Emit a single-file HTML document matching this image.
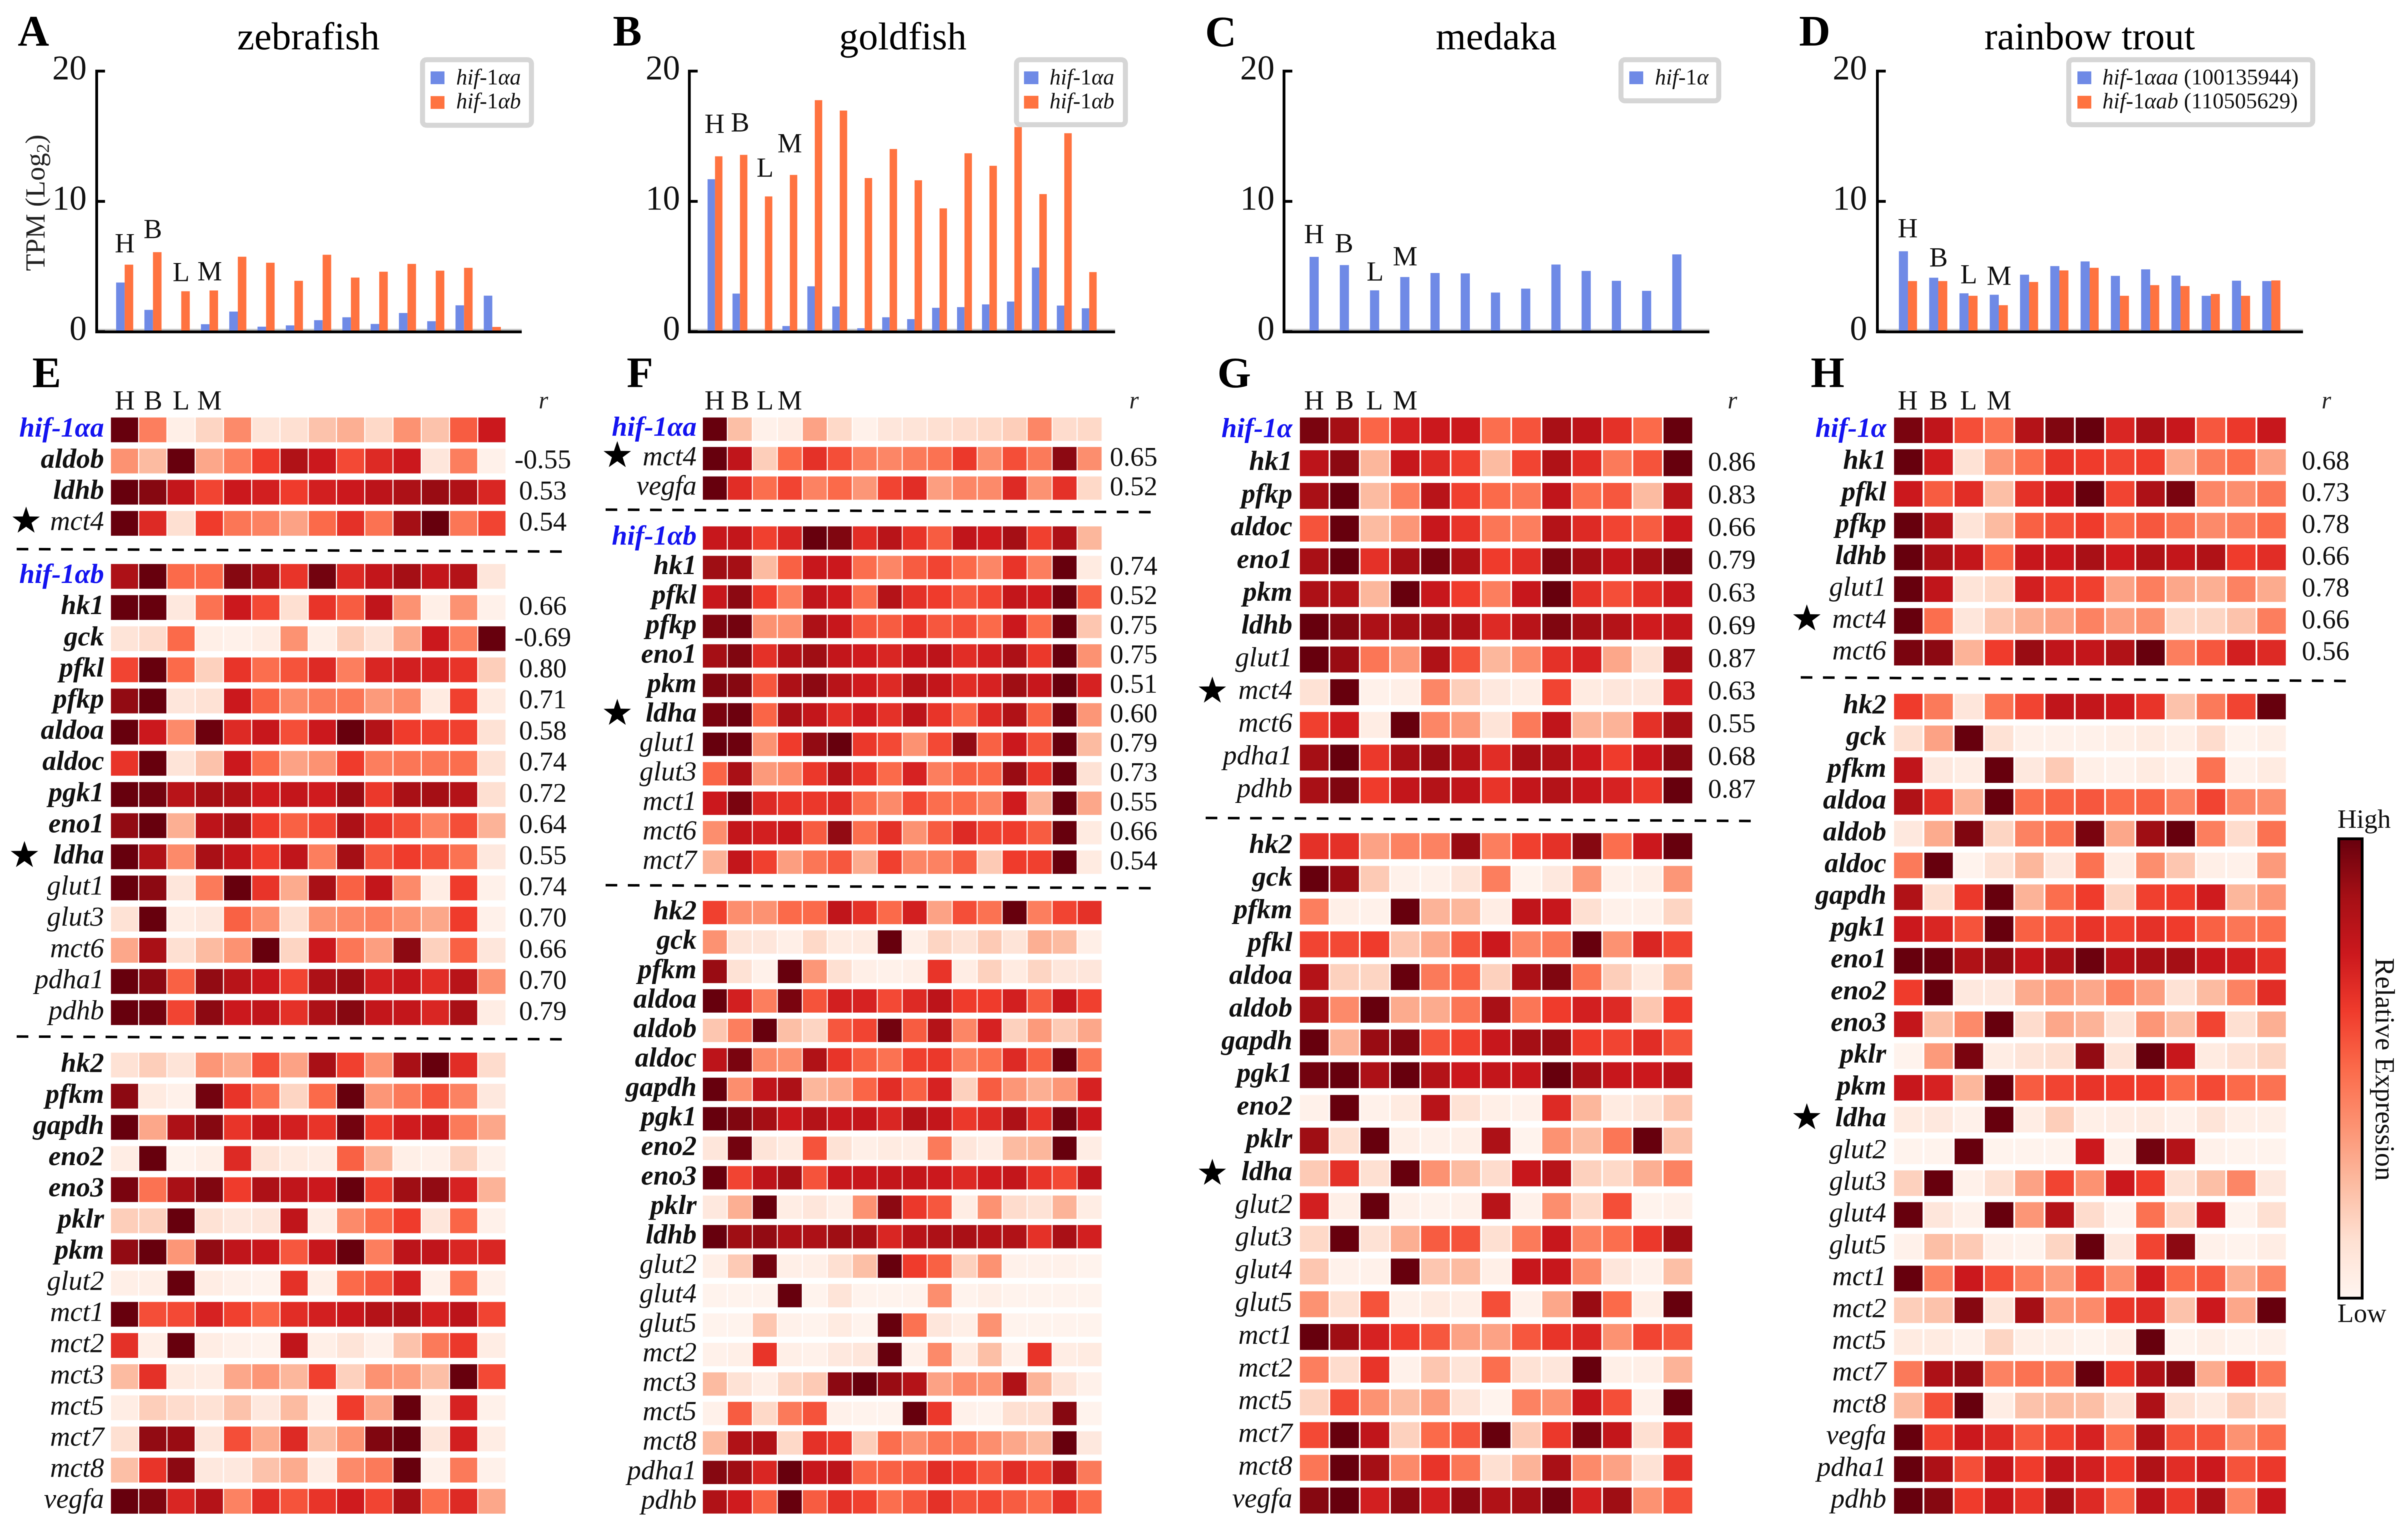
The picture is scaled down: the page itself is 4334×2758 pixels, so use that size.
<!DOCTYPE html>
<html lang="en">
<head>
<meta charset="utf-8">
<title>hif-1 alpha expression across fish tissues</title>
<style>
html,body{margin:0;padding:0;background:#fff;width:4334px;height:2758px;overflow:hidden}
svg{display:block;font-family:"Liberation Serif",serif;filter:blur(0.8px)}
</style>
</head>
<body>
<svg id="fig" xmlns="http://www.w3.org/2000/svg" width="4334" height="2758" viewBox="0 0 4334 2758">
<defs>
<linearGradient id="redsGrad" x1="0" y1="1" x2="0" y2="0">
<stop offset="0" stop-color="#fff5f0"/><stop offset="0.125" stop-color="#fee0d2"/><stop offset="0.25" stop-color="#fcbba1"/><stop offset="0.375" stop-color="#fc9272"/><stop offset="0.5" stop-color="#fb6a4a"/><stop offset="0.625" stop-color="#ef3b2c"/><stop offset="0.75" stop-color="#cb181d"/><stop offset="0.875" stop-color="#a50f15"/><stop offset="1" stop-color="#67000d"/>
</linearGradient>
</defs>
<g font-weight="bold" font-size="78" fill="#000">
<text x="32" y="82">A</text>
<text x="1103" y="82">B</text>
<text x="2169" y="83">C</text>
<text x="3238" y="82">D</text>
<text x="58" y="697">E</text>
<text x="1128" y="697">F</text>
<text x="2191" y="697">G</text>
<text x="3259" y="697">H</text>
</g>
<g font-size="70" fill="#000" text-anchor="middle">
<text x="555" y="89">zebrafish</text>
<text x="1625" y="89">goldfish</text>
<text x="2693" y="89">medaka</text>
<text x="3761" y="89">rainbow trout</text>
</g>
<text transform="translate(80,365) rotate(-90)" text-anchor="middle" font-size="50" fill="#222">TPM (Log<tspan font-size="33" dy="8">2</tspan><tspan dy="-8">)</tspan></text>
<g id="bars"></g>
<g font-size="50" fill="#111" text-anchor="middle">
<text x="224.6" y="454">H</text>
<text x="275" y="428.6">B</text>
<text x="326" y="506">L</text>
<text x="377.5" y="504.5">M</text>
<text x="1286" y="238.8">H</text>
<text x="1332" y="236.7">B</text>
<text x="1377" y="318">L</text>
<text x="1421.5" y="274">M</text>
<text x="2365" y="437.5">H</text>
<text x="2419" y="454">B</text>
<text x="2475" y="505">L</text>
<text x="2529" y="477.5">M</text>
<text x="3433.6" y="427">H</text>
<text x="3489" y="479.6">B</text>
<text x="3543.5" y="510">L</text>
<text x="3598" y="512.6">M</text>
</g>
<g font-size="40" fill="#111">
<g>
<rect x="760.5" y="107.5" width="196" height="118" rx="7" fill="#fff" stroke="#d6d6d6" stroke-width="9"/>
<rect x="775" y="128.5" width="25" height="23" fill="#6f8ae6"/><rect x="775" y="173" width="25" height="23" fill="#ff7340"/>
<text x="821" y="152"><tspan font-style="italic">hif</tspan>-1<tspan font-style="italic">αa</tspan></text>
<text x="821" y="195"><tspan font-style="italic">hif</tspan>-1<tspan font-style="italic">αb</tspan></text>
</g>
<g>
<rect x="1829.5" y="107.5" width="196" height="117" rx="7" fill="#fff" stroke="#d6d6d6" stroke-width="9"/>
<rect x="1843" y="128.5" width="26" height="23" fill="#6f8ae6"/><rect x="1843" y="172.5" width="26" height="23" fill="#ff7340"/>
<text x="1889" y="152"><tspan font-style="italic">hif</tspan>-1<tspan font-style="italic">αa</tspan></text>
<text x="1889" y="195"><tspan font-style="italic">hif</tspan>-1<tspan font-style="italic">αb</tspan></text>
</g>
<g>
<rect x="2917.5" y="107.5" width="176" height="74" rx="7" fill="#fff" stroke="#d6d6d6" stroke-width="9"/>
<rect x="2932.5" y="128.5" width="25" height="23" fill="#6f8ae6"/>
<text x="2978.5" y="152"><tspan font-style="italic">hif</tspan>-1<tspan font-style="italic">α</tspan></text>
</g>
<g>
<rect x="3723.5" y="107.5" width="439" height="117" rx="7" fill="#fff" stroke="#d6d6d6" stroke-width="9"/>
<rect x="3739" y="128.5" width="25" height="23" fill="#6f8ae6"/><rect x="3739" y="172.5" width="25" height="23" fill="#ff7340"/>
<text x="3784" y="152"><tspan font-style="italic">hif</tspan>-1<tspan font-style="italic">αaa</tspan> (100135944)</text>
<text x="3784" y="195"><tspan font-style="italic">hif</tspan>-1<tspan font-style="italic">αab</tspan> (110505629)</text>
</g>
</g>
<g font-size="50" fill="#111" text-anchor="middle">
<text x="224.5" y="737">H</text><text x="275.5" y="737">B</text><text x="326" y="737">L</text><text x="377" y="737">M</text>
<text x="1286" y="737">H</text><text x="1332" y="737">B</text><text x="1377" y="737">L</text><text x="1421.5" y="737">M</text>
<text x="2365" y="737">H</text><text x="2420" y="737">B</text><text x="2474" y="737">L</text><text x="2529" y="737">M</text>
<text x="3433.5" y="737">H</text><text x="3489" y="737">B</text><text x="3543" y="737">L</text><text x="3598" y="737">M</text>
</g>
<g font-size="44" font-style="italic" fill="#222" text-anchor="middle">
<text x="978" y="735">r</text>
<text x="2041" y="735">r</text>
<text x="3118" y="735">r</text>
<text x="4187" y="735">r</text>
</g>
<g id="heat"></g>
<g stroke="#000" stroke-width="4.5" stroke-dasharray="21 19" fill="none">
<line x1="30" y1="988.5" x2="1019" y2="993"/>
<line x1="30" y1="1866" x2="1019" y2="1871"/>
<line x1="1090" y1="917.5" x2="2080" y2="922"/>
<line x1="1090" y1="1593.5" x2="2080" y2="1599"/>
<line x1="2170" y1="1472.5" x2="3161" y2="1478"/>
<line x1="3241" y1="1219.5" x2="4230" y2="1226"/>
</g>
<g id="stars" fill="#000"></g>
<g>
<rect x="4209.5" y="1510" width="42" height="827" fill="url(#redsGrad)" stroke="#000" stroke-width="5"/>
<text x="4207" y="1490.5" font-size="48" fill="#111">High</text>
<text x="4207" y="2380" font-size="48" fill="#111">Low</text>
<text transform="translate(4276,1925) rotate(90)" text-anchor="middle" font-size="50" fill="#111">Relative Expression</text>
</g>
</svg>
<script>
// ---- bar chart values (TPM, Log2) ----
const yTicks = [0, 10, 20];
const zebrafishHif1aa = [3.77,1.67,0,0.57,1.54,0.38,0.48,0.88,1.1,0.59,1.43,0.8,2.02,2.76];
const zebrafishHif1ab = [5.14,6.1,3.1,3.16,5.75,5.29,3.9,5.9,4.15,4.6,5.2,4.68,4.9,0.36];
const goldfishHif1aa = [11.7,2.92,0,0.43,3.48,1.93,0.26,1.1,0.96,1.83,1.88,2.09,2.31,4.92,2.0,1.79];
const goldfishHif1ab = [13.46,13.57,10.38,12.03,17.77,16.97,11.79,14.02,11.62,9.46,13.69,12.73,15.7,10.56,15.23,4.57];
const medakaHif1a = [5.74,5.11,3.17,4.19,4.5,4.47,3.0,3.3,5.15,4.66,3.9,3.13,5.93];
const troutHif1aaa = [6.17,4.14,2.94,2.83,4.37,5.03,5.39,4.28,4.78,4.3,2.75,3.91,3.88];
const troutHif1aab = [3.88,3.88,2.75,2.03,3.81,4.7,4.9,2.75,3.57,3.5,2.89,2.75,3.93];

// ---- heatmap values (0 = low … 8 = high) ----
const genesE = ["hif-1αa","aldob","ldhb","mct4","hif-1αb","hk1","gck","pfkl","pfkp","aldoa","aldoc","pgk1","eno1","ldha","glut1","glut3","mct6","pdha1","pdhb","hk2","pfkm","gapdh","eno2","eno3","pklr","pkm","glut2","mct1","mct2","mct3","mct5","mct7","mct8","vegfa"];
const blocksE = [4,15,15];
const rE = [null,"-0.55","0.53","0.54",null,"0.66","-0.69","0.80","0.71","0.58","0.74","0.72","0.64","0.55","0.74","0.70","0.66","0.70","0.79"];
const valuesE = [
[8,3.5,0.3,1.3,3.2,0.8,1,1.8,2.3,1.2,3,1.8,4.3,6],
[3,2,8,2.5,3.5,5,6.7,6,4.7,5.5,6,0.7,3.5,0.2],
[8,7.5,6.2,4.8,6,5.8,5,5.8,6,6.4,6.8,7.2,6.7,5.6],
[8,5.5,1,5,3.7,3.4,2.6,4,5.3,3.8,7,8,3.7,4.8],
[6.8,8,4,4,7.5,7,5.2,7.8,5.5,6.2,7,6.2,6.6,0.7],
[8,8,0.6,3.8,6,4.7,1,5.2,4.3,6.3,3,0.3,3,0.2],
[0.8,1.1,4,0.3,0.2,0.4,3,0.3,1.5,0.8,2.5,6,3.5,8],
[4.8,8,4,1.4,5.2,3.9,4.5,5.5,3.5,5.6,5.8,5.7,5.2,1.5],
[7.3,8,0.7,0.9,6,4.2,3.2,3.6,3.7,2.8,3.2,0.5,4.9,0.5],
[8,6,3.2,7.9,5.5,6.1,4.6,6,8,6.6,5,4.9,4.9,0.9],
[5.2,8,0.8,1.8,6,4,2.6,3,5,3.5,3.7,3.7,3.9,0.9],
[8,7.8,6.5,7,6.7,5.9,6.2,5.9,7.2,5.1,6.9,7,6.6,1],
[7.3,8,2.3,6.4,6.9,5,4.2,4.8,6.8,5.2,4.6,3.4,4.6,2.2],
[8,6.7,3.2,6.9,6.2,5,6.3,3.5,7,4.4,5,4.5,3.8,0.6],
[8,7.4,0.7,3.6,8,5.2,2.4,6.9,4.2,6.2,3.2,0.4,5,0.2],
[0.9,8,0.4,0.6,4.2,3.1,1,3,3.3,3.5,3,2.5,5,0.2],
[2.5,6.9,1,2,3,8,1.3,6,3.7,2.7,7.4,1.4,4.2,0.7],
[8,7.4,4.2,7.3,6.5,6,4.8,6.8,7.2,5.8,6.1,5.4,6.5,3],
[8,7.8,4.8,7.4,6,6.3,5.3,6.8,7.5,6.2,6.2,5.6,6.9,0.4],
[0.9,1.5,0.8,2.9,2.4,4.6,2.6,6.9,4.9,3,6.9,8,5.4,1.1],
[7.4,0.5,0.2,7.8,5.2,3.8,1.3,4,8,2.9,3.6,4.5,3.4,0.6],
[8,2.5,6.8,7.5,5.2,6.2,5.8,5.2,7.8,5,5.9,6.2,3.6,2.5],
[0.4,8,0.1,0.3,5.5,0.8,0.5,0.4,4.2,2.2,0.3,0.2,1.4,0.2],
[7.7,3.8,6.9,7.6,5,6.8,6.3,6,8,4.9,7.1,7.3,5.7,2.2],
[1.5,1.4,8,0.9,0.6,0.7,6.3,0.4,3.2,4,5,0.7,4.1,0.2],
[7.3,8,2.9,7.3,6.3,6.1,4.4,6.1,8,3.5,6.4,6.3,5.6,5.6],
[0.3,0.3,8,0.4,0.2,0.1,5.3,0.3,4,4.4,5.8,0.2,3.9,0.2],
[8,4.6,4.7,5.7,4.9,4.1,5.4,5.8,6.1,6.6,6.8,5.8,6.4,4.8],
[5.3,0.3,8,0.4,0.2,0.1,6.3,0.3,0.8,0.2,1.8,3.6,5.1,0.4],
[2,5.3,0.5,0.4,2.5,2.9,2.1,4.9,1.4,3,2.8,1.9,8,4.7],
[0.4,1.5,1.1,0.9,1.8,0.6,2,0.2,5,2.5,8,0.4,5.7,0.2],
[1,7.3,7.2,0.7,4.6,2.4,5.5,1.9,3,7.6,8,0.7,5.8,0.4],
[1.9,5.2,7.4,0.6,0.6,1.8,2.4,0.4,3.2,3.6,8,0.2,3.6,0.2],
[8,7.6,5.6,6.6,3.4,5.4,4.5,5.2,5.9,4.8,6.9,3.9,5.5,2.5]
];
const genesF = ["hif-1αa","mct4","vegfa","hif-1αb","hk1","pfkl","pfkp","eno1","pkm","ldha","glut1","glut3","mct1","mct6","mct7","hk2","gck","pfkm","aldoa","aldob","aldoc","gapdh","pgk1","eno2","eno3","pklr","ldhb","glut2","glut4","glut5","mct2","mct3","mct5","mct8","pdha1","pdhb"];
const blocksF = [3,12,21];
const rF = [null,"0.65","0.52",null,"0.74","0.52","0.75","0.75","0.51","0.60","0.79","0.73","0.55","0.66","0.54"];
const valuesF = [
[8,1.9,0.2,0.4,2.6,1.2,0.2,0.7,0.8,1,1.1,1.2,1.5,3.3,1.1,1.2],
[8,6.3,1.5,4,5.3,4.6,3.5,3.3,3.6,3.8,5.1,3.1,4.6,3.6,7.4,3.1],
[8,5.4,3.9,4.8,3.4,4,2.9,4.8,5.4,2.7,3.3,3.2,5.5,3,5.3,1.2],
[6.1,6.2,4.9,5.6,8,7.6,5.4,6.5,5.2,4.3,6.3,5.9,7,4.9,6.8,2.1],
[7.1,7,2,4.2,6.1,6,3.9,3.3,4.3,4.8,4,3.3,5.2,3.5,8,0.5],
[6.1,7.4,5,3.5,6.3,5.9,3.9,6.6,5.3,5,4.4,4.8,6.2,5.9,8,4.3],
[7.6,7.8,3,3.1,6.8,6.1,4.4,4.3,5.1,4.4,4.6,4,6,4,8,1.7],
[7,7.6,5.3,6.6,7.1,6.2,5.9,5.6,6.1,6.4,5.4,5.8,6.8,5.1,8,3],
[7.6,7.5,4.4,6.8,7.4,6.5,5.9,5.5,6.6,6.2,5.4,5.7,7.1,6.1,8,5.7],
[7.7,7.9,4.1,6.9,6.2,5.4,5.9,5.3,6.4,5.2,4.1,5.5,6.7,4.2,8,2.9],
[8,7.9,3,5,7.3,8,5.1,4.7,3,4.7,7.3,4.2,6,4.5,8,2],
[4.1,6.9,2.8,3.2,5.1,6.6,5.2,4,5.7,3.5,4.2,4.1,7.2,5.1,8,0.9],
[6,7.7,5.5,5.2,5.1,5.5,3.9,3.2,4.7,3.9,4,3.4,5.9,2.2,8,2.5],
[3.1,6.2,5.8,6.1,4.3,7.3,3.9,5.3,3,4.3,5.5,4.8,5,4.3,8,0.5],
[2.2,6.2,4.9,2.7,3.7,4.4,2.4,4.9,3.3,3.4,4.3,1.6,5,4.9,8,0.5],
[4.9,3.1,3,4,4,6.3,5.3,4,5.8,2.6,4.6,3.8,8,3.5,4.8,5.3],
[3,0.8,0.7,0.3,1.2,0.5,0.5,8,0.3,1.3,0.9,1.6,0.8,2.3,2,0.3],
[7.2,0.9,0.2,8,2.9,1,0.3,0.2,0.3,5.2,0.4,1.4,0.5,1.3,0.7,0.7],
[8,5.8,3.5,7.7,4.5,5.8,5.7,4.7,5.5,6.4,5,5,5.8,4.3,6.1,4.9],
[1.7,3.5,8,1.9,1.3,4.4,4.8,7.8,4.3,6.6,3.3,5.7,1.4,2.8,1.6,2.5],
[6.4,7.7,3.2,3.1,6.7,5.2,4.2,3.8,4.9,5.1,3.5,3.9,5.5,4.2,8,3.7],
[8,3.1,6.3,6.8,2.1,2.5,4.1,5.4,4.2,5.7,1.4,4.3,2.9,2.3,2.9,5.7],
[8,7.6,7,6,6.6,6.1,6.2,5.6,6.6,6.2,5.1,5.5,6.8,5.2,7.8,6],
[0.7,7.8,0.8,0.5,4.5,0.9,0.3,0.5,0.4,3.6,0.7,0.4,2,2.1,8,0.4],
[8,4.8,6.4,7,4.5,6.1,6.1,6.2,6.2,6,5.5,5.9,6.2,5.2,4.7,6.4],
[0.6,2.3,8,0.4,0.7,0.3,3,7.4,5.1,4.4,0.4,3,1.1,0.9,2.2,0.4],
[8,7.1,7.3,6.8,6.8,7.1,7,5.6,6.5,6.8,6.9,6.6,6.7,5.3,6.9,5.8],
[0.3,1.6,7.8,0.3,0.3,1,1.9,8,5,4.2,1.4,3,0.2,0.2,0.2,0.1],
[0.1,0.1,0.1,8,0.1,0.8,0.1,0.1,0.1,3.1,0.1,0.3,0.1,0.1,0.1,0.1],
[0.1,0.1,1.7,0.2,0.1,0.5,0.1,8,3.8,0.7,0.3,3,0.1,0.1,0.1,0.1],
[0.2,0.3,5.2,0.3,0.2,0.6,0.7,8,0.2,3.2,0.5,1.9,0.2,5.2,0.4,0.5],
[2,0.9,0.3,1.3,1.6,7.4,8,7.2,6.6,2.6,3.2,3,6.7,2.2,0.8,0.2],
[0.2,4.3,1.2,3.6,4.5,0.2,0.1,0.1,8,5.1,0.2,0.1,1,1,7.5,0.1],
[2,6.7,6.7,1.2,5.3,5.1,1.5,3.9,3.1,3.7,3.7,3.1,2.5,2,8,0.6],
[7.5,7.1,5.6,8,6.1,6.4,4.1,4.2,4.4,5.4,5,4.4,5.4,4.8,6.7,3.6],
[6.7,5.9,4.2,8,4.3,5.3,4.9,3.9,4.4,5.3,4.5,4.7,4.3,4,5.3,4]
];
const genesG = ["hif-1α","hk1","pfkp","aldoc","eno1","pkm","ldhb","glut1","mct4","mct6","pdha1","pdhb","hk2","gck","pfkm","pfkl","aldoa","aldob","gapdh","pgk1","eno2","pklr","ldha","glut2","glut3","glut4","glut5","mct1","mct2","mct5","mct7","mct8","vegfa"];
const blocksG = [12,21];
const rG = [null,"0.86","0.83","0.66","0.79","0.63","0.69","0.87","0.63","0.55","0.68","0.87"];
const valuesG = [
[7.7,7,4.1,5.7,6,6,3.9,4.5,6.9,6.4,5.3,4,8],
[6.4,7.4,2.1,6.1,5.5,4.9,2,4.8,6.7,5.4,3.6,4.5,8],
[6.9,8,2,3.5,6.5,4.9,4,3.7,6.3,3.9,4.4,2,6.5],
[4.5,8,2,2.9,6.1,5.2,3.7,3.5,6.6,5.5,4.8,4.3,6],
[6.9,8,5.3,7,7.7,6.7,5,5.4,7.6,7,6.2,7,7.6],
[6.8,6.7,2.1,8,6.1,5,3.5,6.1,8,5.3,4.6,5.3,6.1],
[8,7.5,6.8,7,7,6.8,5.5,6.5,7.6,7,6.6,5.9,6.2],
[8,7.2,3.7,2.9,6.7,4.5,2.1,3.2,5.3,5.7,2.5,0.9,6.9],
[0.9,8,0.2,0.3,3.3,1.5,0.6,0.4,4.8,0.5,0.7,0.6,5.7],
[4.9,5.9,0.4,8,3.3,2.8,0.8,3.6,6.3,2.2,2.2,5.3,7],
[7,8,5.1,6.9,7.2,6.6,5.4,6.9,6.7,6,5,6,7.5],
[6.9,7.6,5,6.2,6.6,6.3,5.2,6.2,6.6,6.1,5.7,5.1,8],
[5.3,5.3,2.6,3.4,3.4,7.2,3.5,4.9,5.3,7.5,3.9,6,8],
[8,7.2,1.6,0.2,0.2,0.8,3.5,0.1,0.6,2.9,0.2,0.3,2.9],
[3.5,0.3,0.2,8,2.2,2.1,0.4,6.3,6.1,1,0.2,0.2,1.3],
[4.8,4.7,5,1.7,2.5,4.5,6,3.3,3.6,8,3,5.6,4.8],
[6.6,1.4,1.3,8,3.6,4.1,1.4,6.8,7.6,3.8,1.5,0.5,2.1],
[7,3.2,8,2.4,2.4,3.7,6.9,3.7,5,5.8,5.5,1.7,5],
[8,2.2,7.2,7.6,4.5,4.9,6.1,7,7.2,5,4.8,5.4,4.5],
[7.8,8,6.8,8,6.6,6,6.2,6.1,8,6.9,6.1,6,6.4],
[0.2,8,0.2,0.5,6.5,0.9,0.3,0.2,5.5,2.1,0.5,0.8,1.7],
[7.1,1,8,0.3,0.2,0.3,6.8,0.1,3,2,3.7,8,1.8],
[1.6,5.3,1,8,3,2,1.1,6.1,6.5,1.4,1.2,2.3,3.4],
[5.8,0.3,8,0.2,0.1,0.2,6.5,0.2,3.1,1.2,4.6,0.1,0.2],
[1.2,8,0.9,2.3,4.3,4.5,1,3.6,6.1,3.4,3.9,5.1,7.1],
[1.7,0.2,0.2,8,1.7,2,0.3,6.1,6.1,3.2,0.7,0.2,1.9],
[3,1,4.5,0.2,0.5,0.3,4.6,0.2,2.5,7.2,4,0.3,8],
[8,7.1,5.7,5,4.4,2.6,2.6,4.4,5.2,5.6,3,4.8,4.4],
[3.5,1.1,5.2,0.2,1.7,0.8,3.9,0.9,0.7,8,0.3,0.3,2.2],
[1.3,4.7,3,2,2.8,0.8,0.1,3.4,3,6.1,4.6,0.2,8],
[4.7,8,6.3,1.4,4,4.4,8,1.6,5.1,7.7,6.2,1,5.3],
[3.7,8,7,3.2,5.2,3.7,1,2.2,6.9,3.2,2.6,0.9,5.3],
[7.5,8,5.8,7.4,5.8,7.4,6.7,7,7.8,5.8,7.1,3,4.6]
];
const genesH = ["hif-1α","hk1","pfkl","pfkp","ldhb","glut1","mct4","mct6","hk2","gck","pfkm","aldoa","aldob","aldoc","gapdh","pgk1","eno1","eno2","eno3","pklr","pkm","ldha","glut2","glut3","glut4","glut5","mct1","mct2","mct5","mct7","mct8","vegfa","pdha1","pdhb"];
const blocksH = [8,26];
const rH = [null,"0.68","0.73","0.78","0.66","0.78","0.66","0.56"];
const valuesH = [
[7.7,6.3,4.6,3.8,6.6,7.6,8,5.6,6.8,6.1,4.4,5.1,6.1],
[8,5.9,0.9,2.9,3.9,5.2,5,4.8,5,2.4,3.6,4,2.6],
[6,4.3,5.4,1.9,5.3,5.9,8,4.8,6.8,7.7,3.3,3.1,3.7],
[8,6.6,0.8,2,4.2,4.6,5,4,4.4,3.8,3.2,3.5,4],
[8,6.8,6.2,4,6.1,6,6.9,5.9,6.7,6.2,6.7,5,5.4],
[8,6.3,0.8,1.2,5.8,5.1,4.9,2.6,3.5,2.5,2.3,3.4,2.4],
[8,3.9,0.7,1.7,2.3,2.6,3.4,2.7,3.1,1.2,1.3,1.8,3.5],
[7.7,7.4,2.2,5,7.2,6.3,6.2,6.7,8,3.5,4.4,5.8,5.5],
[5,3.6,0.7,3.8,4.8,6.3,6.2,5.9,5.2,1.8,3.6,4.8,8],
[1,2.6,8,0.9,0.2,0.2,0.2,0.3,0.5,0.3,1.1,0.1,0.3],
[6.3,0.6,0.4,8,0.6,1.6,0.3,0.2,0.5,0.2,3.8,0.2,0.5],
[6.7,5.3,2.2,8,3.9,4.2,4.4,4,4.2,3.4,4.8,3.3,3.1],
[0.6,2.4,7.6,1.3,3.4,3.8,7.7,2.5,7.1,8,3.5,1.1,3.8],
[3.6,8,0.1,0.9,2.1,0.6,3.8,0.4,3.1,1.7,0.3,0.2,2.8],
[6.7,1,5.1,8,2.2,3.9,5,1.3,4.9,5,5.9,2.1,2.9],
[6,5.6,4.5,8,4.2,4.5,5.2,4.9,5.3,5,4.2,3.7,3.9],
[8,7.9,6.7,7.3,6.2,6.8,7.9,6.5,6.9,7,6.1,5.8,5.3],
[5,8,0.6,0.6,2.4,2.8,2.5,3.4,2.7,0.9,2,3.4,5.4],
[6.2,1.9,3.2,8,1.1,2.5,2.2,0.8,2.9,1.9,4.8,1,2.3],
[0.1,2.8,7.7,0.4,0.8,1,7.3,0.8,8,6.1,0.5,0.9,1.3],
[6.1,5.7,2.1,8,4.3,4.8,5.2,5,5,4,4.7,4,3.8],
[0.5,0.6,0.2,8,0.4,1.5,0.3,0.4,0.5,0.2,0.8,0.3,0.3],
[0.1,0.1,8,0.1,0.1,0.1,6,0.2,7.8,6.6,0.2,0.1,0.1],
[1.4,8,0.2,1,2.6,4.8,3,6,5,0.9,1.9,3.3,0.6],
[8,0.7,0.2,8,2.9,6.6,1.1,0.1,3.8,1.2,6.1,0.1,1],
[0.2,1.9,1.6,0.2,0.1,1.3,8,0.6,4.8,7.4,0.2,0.1,0.4],
[8,3.4,6,4.6,3.5,2.8,4.8,3.1,5.9,4,4.4,2.3,3.3],
[1.5,1.8,7.5,0.8,7,2.9,3.2,5.1,5.5,1.8,6,2.5,8],
[0.5,0.5,0.2,1.3,0.3,0.3,0.1,0.3,8,0.1,0.3,0.1,0.2],
[3.6,6.8,7.3,3.4,3.8,3.6,8,5,6.8,7.5,2.4,5.2,3.7],
[2,4.6,8,0.4,1.8,2,1.9,0.9,6.8,0.9,0.5,1.5,1],
[8,4.9,6,5.5,4.4,4.9,5.7,3.9,6.7,4.5,4.5,3,3.9],
[8,6.8,4.6,6.2,5,6.3,5.8,5,6.7,5.4,6,4.5,5.1],
[8,7.5,5,6.2,5.2,6.9,5.5,4,6.4,5.1,6.8,3.4,6.1]
];

const NS = 'http://www.w3.org/2000/svg';
const BLUE = '#6f8ae6';
const ORANGE = '#ff7340';
const RAMP = [[255,245,240],[254,224,210],[252,187,161],[252,146,114],[251,106,74],[239,59,44],[203,24,29],[165,15,21],[103,0,13]];

function make(tag, parent) {
  const el = document.createElementNS(NS, tag);
  parent.appendChild(el);
  return el;
}
function colorOf(v) {
  const t = Math.max(0, Math.min(8, v));
  const i = Math.min(7, Math.floor(t));
  const f = t - i;
  const c = RAMP[i].map((a, k) => Math.round(a + (RAMP[i + 1][k] - a) * f));
  return 'rgb(' + c.join(',') + ')';
}

// Bar panels share one value axis: 0 at y=597, 23.45 px per unit.
const AXIS_BOTTOM = 597;
const AXIS_UNIT = 23.45;
function yScale(v) { return AXIS_BOTTOM - v * AXIS_UNIT; }

function drawBarPanel(id, axisX, axisEnd, labelRight, startX, step, barW, seriesList, colors) {
  const root = document.getElementById('bars');
  const g = make('g', root);
  
  

  const base = make('rect', g);
  
  
  base.setAttribute('x', axisX);
  base.setAttribute('y', AXIS_BOTTOM - 5);
  base.setAttribute('width', axisEnd - axisX);
  base.setAttribute('height', 4);
  base.setAttribute('fill', '#c4c4c4');

  seriesList.forEach((series, s) => {
    series.forEach((v, i) => {
      if (v <= 0) return;
      const r = make('rect', g);
      
      
      r.setAttribute('x', startX + i * step + s * barW);
      r.setAttribute('y', yScale(v));
      r.setAttribute('width', barW);
      r.setAttribute('height', AXIS_BOTTOM - yScale(v));
      r.setAttribute('fill', colors[s]);
    });
  });

  const yAxis = make('rect', g);
  
  
  yAxis.setAttribute('x', axisX - 2.5);
  yAxis.setAttribute('y', yScale(20) - 2.5);
  yAxis.setAttribute('width', 5);
  yAxis.setAttribute('height', AXIS_BOTTOM - yScale(20) + 5);
  yAxis.setAttribute('fill', '#000');

  const xAxis = make('rect', g);
  
  
  xAxis.setAttribute('x', axisX - 2.5);
  xAxis.setAttribute('y', AXIS_BOTTOM - 2);
  xAxis.setAttribute('width', axisEnd - axisX + 2.5);
  xAxis.setAttribute('height', 5);
  xAxis.setAttribute('fill', '#000');

  yTicks.forEach(t => {
    const tick = make('rect', g);
    
    
    tick.setAttribute('x', axisX);
    tick.setAttribute('y', yScale(t) - 2.5);
    tick.setAttribute('width', 15);
    tick.setAttribute('height', 5);
    tick.setAttribute('fill', '#000');

    const lab = make('text', g);
    
    
    lab.setAttribute('x', labelRight);
    lab.setAttribute('y', yScale(t) + 15);
    lab.setAttribute('text-anchor', 'end');
    lab.setAttribute('font-size', '62');
    lab.setAttribute('fill', '#111');
    lab.textContent = String(t);
  });
}

drawBarPanel('a', 174, 939, 156, 209, 50.9, 15.4, [zebrafishHif1aa, zebrafishHif1ab], [BLUE, ORANGE]);
drawBarPanel('b', 1240.7, 2007, 1224, 1273.5, 44.9, 13.4, [goldfishHif1aa, goldfishHif1ab], [BLUE, ORANGE]);
drawBarPanel('c', 2311, 3076.6, 2294, 2357, 54.4, 16.5, [medakaHif1a], [BLUE]);
drawBarPanel('d', 3379, 4145, 3360.5, 3417.7, 54.5, 16.3, [troutHif1aaa, troutHif1aab], [BLUE, ORANGE]);

function isRegular(g) { return /^(glut|mct|pdh|vegfa)/.test(g); }

function drawHeat(id, genes, values, rValues, blocks, L) {
  const root = document.getElementById('heat');
  const g = make('g', root);
  
  
  let row = 0;
  blocks.forEach((count, b) => {
    for (let k = 0; k < count; k++, row++) {
      const y = L.tops[b] + k * L.rowStep;
      const gene = genes[row];
      const cy = y + L.h / 2;

      const lab = make('text', g);
      
      
      lab.setAttribute('x', L.labelX);
      lab.setAttribute('y', cy + 12);
      lab.setAttribute('text-anchor', 'end');
      lab.setAttribute('font-size', '50');
      lab.setAttribute('font-style', 'italic');
      lab.setAttribute('font-weight', isRegular(gene) ? 'normal' : 'bold');
      lab.setAttribute('fill', gene.indexOf('hif') === 0 ? '#1414f0' : '#111');
      lab.textContent = gene;

      values[row].forEach((v, c) => {
        const cell = make('rect', g);
        
        
        cell.setAttribute('x', L.x + c * L.step);
        cell.setAttribute('y', y);
        cell.setAttribute('width', L.w);
        cell.setAttribute('height', L.h);
        cell.setAttribute('fill', colorOf(v));
      });

      if (rValues[row]) {
        const rt = make('text', g);
        
        
        rt.setAttribute('x', L.rX);
        rt.setAttribute('y', cy + 13);
        rt.setAttribute('text-anchor', 'middle');
        rt.setAttribute('font-size', '49');
        rt.setAttribute('fill', '#111');
        rt.textContent = rValues[row];
      }
    }
  });
}

drawHeat('e', genesE, valuesE, rE, blocksE, {x:199.7, step:50.86, w:48.9, h:44.6, rowStep:56.1, tops:[751.6,1015.3,1895], labelX:187.3, rX:977});
drawHeat('f', genesF, valuesF, rF, blocksF, {x:1265, step:44.97, w:43.1, h:42, rowStep:53.05, tops:[751.6,947.6,1621.8], labelX:1253.8, rX:2040.4});
drawHeat('g', genesG, valuesG, rG, blocksG, {x:2339.6, step:54.54, w:51.7, h:46.7, rowStep:58.9, tops:[751.6,1500], labelX:2326, rX:3117});
drawHeat('h', genesH, valuesH, rH, blocksH, {x:3409, step:54.48, w:51.3, h:46, rowStep:57.2, tops:[751.6,1249], labelX:3395, rX:4185.8});

function drawStar(name, cx, cy) {
  const outer = 26, inner = 10.2;
  const pts = [];
  for (let i = 0; i < 10; i++) {
    const a = -Math.PI / 2 + i * Math.PI / 5;
    const r = i % 2 ? inner : outer;
    pts.push((cx + r * Math.cos(a)).toFixed(1) + ',' + (cy + r * Math.sin(a)).toFixed(1));
  }
  const s = make('polygon', document.getElementById('stars'));
  
  
  s.setAttribute('points', pts.join(' '));
}
drawStar('star-mct4-e', 47, 938);
drawStar('star-ldha-e', 44, 1540);
drawStar('star-mct4-f', 1111, 820);
drawStar('star-ldha-f', 1111, 1284);
drawStar('star-mct4-g', 2182, 1244);
drawStar('star-ldha-g', 2182, 2112);
drawStar('star-mct4-h', 3252, 1114);
drawStar('star-ldha-h', 3252, 2012);
</script>
</body>
</html>
